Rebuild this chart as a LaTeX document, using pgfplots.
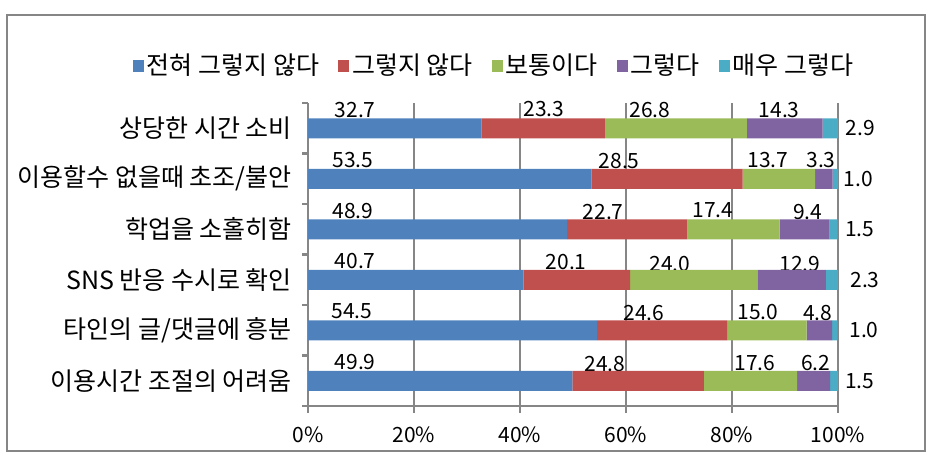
\documentclass[border=0pt]{standalone}
\usepackage{fontspec}
\setmainfont{Noto Sans CJK KR}
\usepackage{pgfplots}
\pgfplotsset{compat=1.18}
\definecolor{cA}{HTML}{4F81BD}
\definecolor{cB}{HTML}{C0504D}
\definecolor{cC}{HTML}{9BBB59}
\definecolor{cD}{HTML}{8064A2}
\definecolor{cE}{HTML}{4BACC6}
\definecolor{gridgray}{HTML}{868686}
\newcommand{\kfont}{\fontsize{25bp}{28bp}\selectfont}
\newcommand{\nfont}{\fontsize{21bp}{25bp}\selectfont}
\begin{document}
\begin{tikzpicture}[font=\nfont]
\useasboundingbox (0bp,0bp) rectangle (940bp,463bp);
\draw[color=gridgray, line width=2.2bp] (7bp,12bp) rectangle (925bp,448bp);
\begin{axis}[
  at={(308bp,57bp)}, anchor=south west,
  scale only axis, width=530bp, height=303bp,
  xbar stacked, bar width=20bp,
  xmin=0, xmax=100, ymin=-0.5, ymax=5.5, y dir=reverse,
  clip=false,
  xtick={0,20,...,100},
  /pgf/number format/assume math mode=true,
  xticklabel={\pgfmathprintnumber{\tick}\%},
  ytick={0,...,5},
  yticklabels={상당한 시간 소비, 이용할수 없을때 초조/불안, 학업을 소홀히함, SNS 반응 수시로 확인, 타인의 글/댓글에 흥분, 이용시간 조절의 어려움},
  minor ytick={-0.5,0.5,...,5.5},
  axis x line*=bottom, axis y line*=left,
  axis line style={gridgray, line width=2.5bp, -},
  xmajorgrids, grid style={gridgray, line width=2.5bp},
  tick align=outside,
  major tick length=7bp, minor tick length=6bp,
  major y tick style={draw=none},
  minor y tick style={gridgray, line width=2.5bp},
  x tick style={gridgray, line width=2.5bp},
  xticklabel style={font=\nfont, text=black, yshift=-10bp},
  yticklabel style={font=\kfont, text=black, inner sep=0pt, xshift=-9bp},
  legend columns=5,
  legend style={at={(0.352,1.125)}, anchor=center, draw=none, fill=none,
    font=\kfont,
    /tikz/every even column/.append style={column sep=16bp},
    nodes={inner sep=3bp}},
  legend image code/.code={\fill[#1] (0bp,-7bp) rectangle (11bp,5bp);},
]
\addplot[fill=cA, draw=none] coordinates {(32.7,0) (53.5,1) (48.9,2) (40.7,3) (54.5,4) (49.9,5)};
\addplot[fill=cB, draw=none] coordinates {(23.3,0) (28.5,1) (22.7,2) (20.1,3) (24.6,4) (24.8,5)};
\addplot[fill=cC, draw=none] coordinates {(26.8,0) (13.7,1) (17.4,2) (24.0,3) (15.0,4) (17.6,5)};
\addplot[fill=cD, draw=none] coordinates {(14.3,0) (3.3,1) (9.4,2) (12.9,3) (4.8,4) (6.2,5)};
\addplot[fill=cE, draw=none] coordinates {(2.9,0) (1.0,1) (1.5,2) (2.3,3) (1.0,4) (1.5,5)};
\legend{전혀 그렇지 않다, 그렇지 않다, 보통이다, 그렇다, 매우 그렇다}
% row 1
\node at (axis cs:8.9,-0.37) {32.7};
\node at (axis cs:44.5,-0.39) {23.3};
\node at (axis cs:64.5,-0.37) {26.8};
\node at (axis cs:88.9,-0.37) {14.3};
\node at (axis cs:104.2,0) {2.9};
% row 2
\node at (axis cs:8.5,0.63) {53.5};
\node at (axis cs:58.7,0.65) {28.5};
\node at (axis cs:86.8,0.63) {13.7};
\node at (axis cs:96.8,0.63) {3.3};
\node at (axis cs:103.8,1) {1.0};
% row 3
\node at (axis cs:8.5,1.63) {48.9};
\node at (axis cs:55.7,1.65) {22.7};
\node at (axis cs:76.4,1.63) {17.4};
\node at (axis cs:94.3,1.65) {9.4};
\node at (axis cs:104.1,2) {1.5};
% row 4
\node at (axis cs:8.9,2.63) {40.7};
\node at (axis cs:48.7,2.65) {20.1};
\node at (axis cs:68.3,2.69) {24.0};
\node at (axis cs:92.8,2.68) {12.9};
\node at (axis cs:105.1,3) {2.3};
% row 5
\node at (axis cs:8.3,3.63) {54.5};
\node at (axis cs:63.4,3.65) {24.6};
\node at (axis cs:84.9,3.63) {15.0};
\node at (axis cs:96.2,3.66) {4.8};
\node at (axis cs:104.9,4) {1.0};
% row 6
\node at (axis cs:8.9,4.63) {49.9};
\node at (axis cs:56.0,4.66) {24.8};
\node at (axis cs:84.3,4.65) {17.6};
\node at (axis cs:95.8,4.65) {6.2};
\node at (axis cs:104.1,5) {1.5};
\end{axis}
\end{tikzpicture}
\end{document}
